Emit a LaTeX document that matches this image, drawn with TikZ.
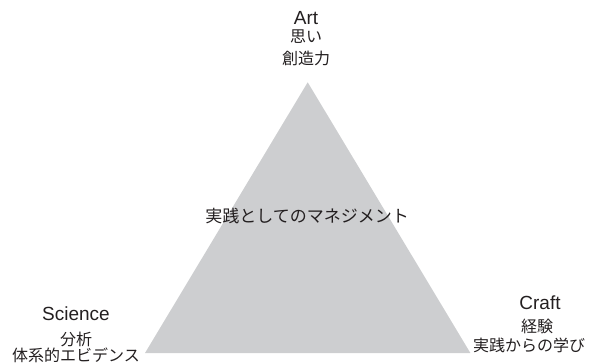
\documentclass[tikz,border=0pt]{standalone}
\usepackage{fontspec}
\setmainfont{Liberation Sans}
\newfontfamily\jp{Noto Sans CJK JP}
\definecolor{trigray}{RGB}{205,206,208}
\definecolor{txt}{RGB}{35,31,32}
\begin{document}
\begin{tikzpicture}[x=1pt,y=-1pt,
  en/.style={anchor=base,inner sep=0pt,text=txt,font=\fontsize{19}{19}\selectfont},
  ja/.style={anchor=base,inner sep=0pt,text=txt,font=\jp\fontsize{16}{16}\selectfont},
  jc/.style={anchor=base,inner sep=0pt,text=txt,font=\jp\fontsize{17}{17}\selectfont}]
\useasboundingbox (0,0) rectangle (595,362);
\coordinate (top) at (307.7,82.3);
\coordinate (bl) at (145,353);
\coordinate (br) at (470.4,353);
\fill[trigray] (top) -- (bl) -- (br) -- cycle;
\node[jc] (center) at (307,222) {実践としてのマネジメント};
\node[en] (art) at (306,24) {Art};
\node[ja] (art1) at (306,42.5) {思い};
\node[ja] (art2) at (306,64) {創造力};
\node[en] (sci) at (76,320) {Science};
\node[ja] (sci1) at (76,345) {分析};
\node[ja] (sci2) at (76,361) {体系的エビデンス};
\node[en] (craft) at (540,309) {Craft};
\node[ja] (craft1) at (537,332) {経験};
\node[ja] (craft2) at (529,351) {実践からの学び};
\end{tikzpicture}
\end{document}
